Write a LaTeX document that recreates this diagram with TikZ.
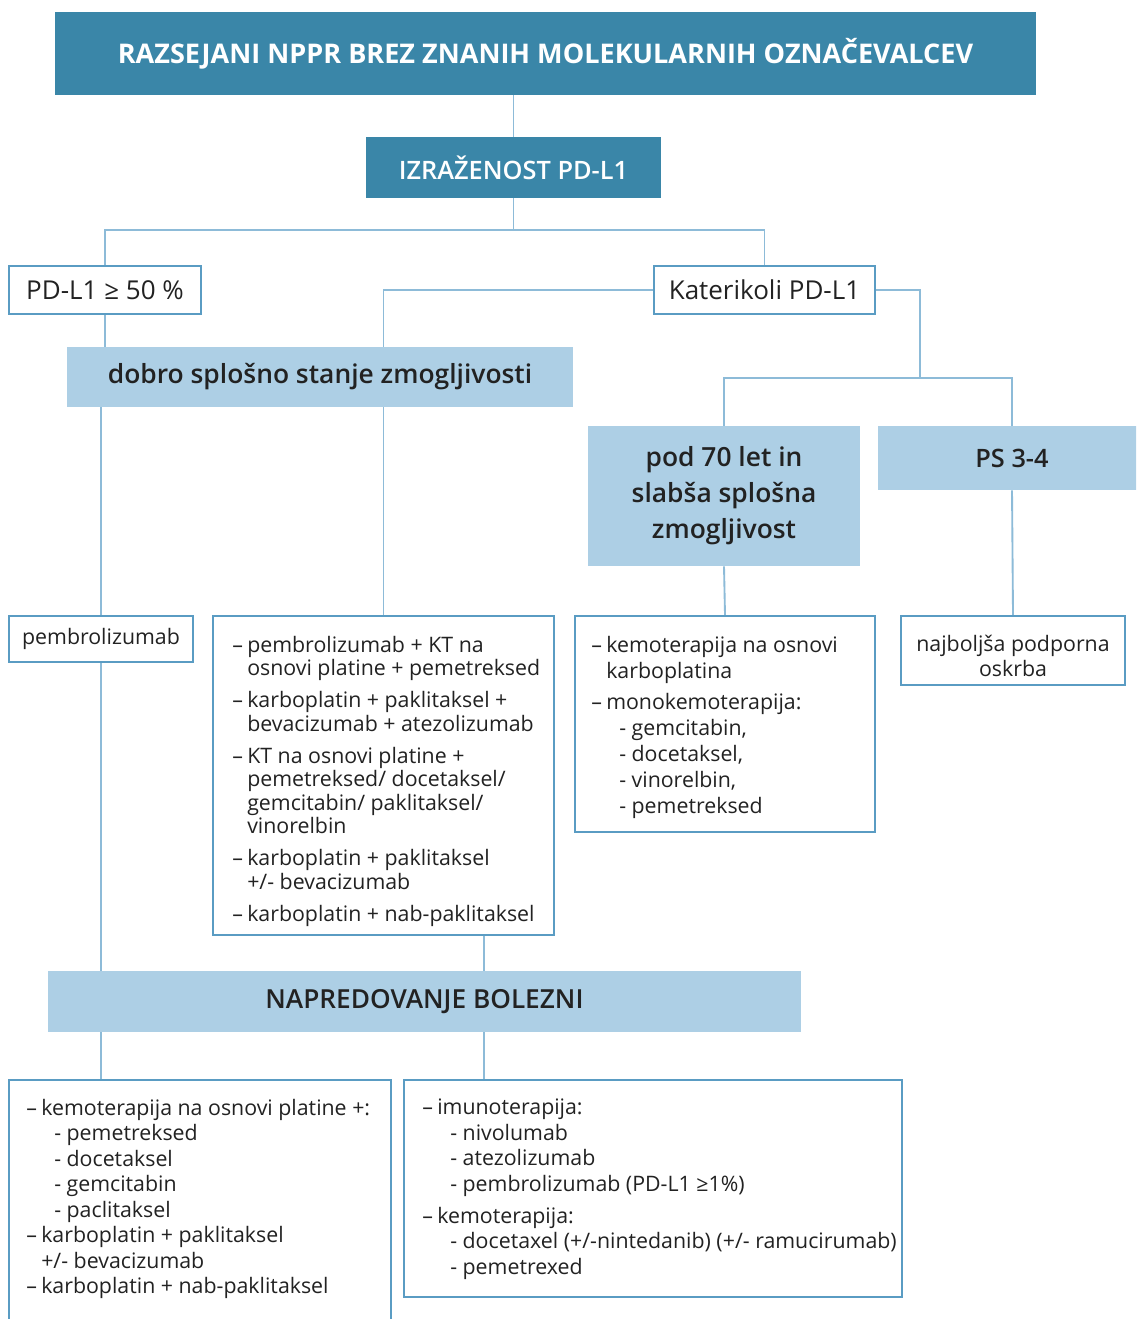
\documentclass[tikz,border=0pt]{standalone}
\usepackage{fontspec}
\setmainfont{Open Sans}
\newcommand\medfactor{1}
\IfFontExistsTF{Open Sans SemiBold}{\newfontfamily\medfont{Open Sans SemiBold}\renewcommand\medfactor{0.97}}{%
  \IfFontExistsTF{Open Sans Semibold}{\newfontfamily\medfont{Open Sans Semibold}\renewcommand\medfactor{0.97}}{%
    \newfontfamily\medfont[FakeBold=3]{Open Sans}}}
\newcommand\medsz[2]{\medfont\fontsize{\fpeval{\medfactor*#1}}{#2}\selectfont}
\usetikzlibrary{calc}
\definecolor{dteal}{HTML}{3A86A8}
\definecolor{lblue}{HTML}{ADCFE5}
\definecolor{conncol}{HTML}{8DBBD8}
\definecolor{bordcol}{HTML}{5A9CC3}
\definecolor{txtcol}{HTML}{222222}
\newcommand\di{\makebox[11.25pt][l]{–}}
\newcommand\ci{\hspace*{11.25pt}}
\newcommand\si{\hspace*{21pt}- }
\newcommand\bodysz[1]{\fontsize{16}{#1}\selectfont}
\begin{document}
\begin{tikzpicture}[x=0.75pt,y=-0.75pt,
  wh/.style 2 args={minimum width=#1*0.75pt,minimum height=#2*0.75pt},
  darkbox/.style={fill=dteal,draw=none,text=white,inner sep=0pt},
  lightbox/.style={fill=lblue,draw=none,text=txtcol,inner sep=0pt},
  whitebox/.style={fill=white,draw=bordcol,line width=1.8pt,inner sep=0pt,text=txtcol},
  listblk/.style={anchor=north west,inner sep=0pt,align=left,text=txtcol},
  link/.style={draw=conncol,line width=1.4pt}]
\useasboundingbox (0,0) rectangle (1136,1319);
\clip (0,0) rectangle (1136,1319);
\fill[white] (0,0) rectangle (1136,1319);

% header nodes
\node[darkbox,wh={981}{83}] (title) at (545.5,53.5)
  {\raisebox{-1pt}{\bfseries\fontsize{20.3}{22}\selectfont RAZSEJANI NPPR BREZ ZNANIH MOLEKULARNIH OZNAČEVALCEV}};
\node[darkbox,wh={295}{61}] (izr) at (513.5,167.5)
  {\medsz{19.6}{22}IZRAŽENOST PD-L1};
\node[whitebox,wh={192}{48}] (pd50) at (105,290)
  {\fontsize{19.5}{22}\selectfont PD-L1 ≥ 50 \%};
\node[whitebox,wh={221}{48}] (kat) at (764.5,290)
  {\fontsize{19.5}{22}\selectfont Katerikoli PD-L1};
\node[lightbox,wh={506}{60}] (dobro) at (320,377)
  {\raisebox{-1.5pt}{\medsz{20.4}{22}dobro splošno stanje zmogljivosti}};
\node[lightbox,wh={272}{140},align=center,font=\medsz{20.4}{27}] (pod) at (724,496)
  {pod 70 let in\\slabša splošna\\zmogljivost};
\node[lightbox,wh={268}{64}] (ps) at (1012,458)
  {\medsz{19.6}{22}PS 3-4};

% level boxes
\node[whitebox,wh={184}{46}] (b1) at (101,639) {\raisebox{-2pt}{\bodysz{19}pembrolizumab}};
\node[whitebox,wh={341}{319}] (b2) at (383.5,775.5) {};
\node[whitebox,wh={300}{216}] (b3) at (725,724) {};
\node[whitebox,wh={224}{69}] (b4) at (1013,650.5)
  {\raisebox{-6pt}[\height][\depth]{\bodysz{18.75}\begin{tabular}{@{}c@{}}najboljša podporna\\oskrba\end{tabular}}};
\node[lightbox,wh={753}{61}] (nap) at (424.5,1001.5)
  {\raisebox{-1.5pt}{\medsz{20.3}{22}NAPREDOVANJE BOLEZNI}};
\node[whitebox,wh={382}{260}] (b5) at (200,1210) {};
\node[whitebox,wh={498}{217}] (b6) at (653,1188.5) {};

% box texts
\node[listblk,font=\bodysz{17.6}] (t2) at (232,636) {%
\di pembrolizumab + KT na\\
\ci osnovi platine + pemetreksed\\[6.4pt]
\di karboplatin + paklitaksel +\\
\ci bevacizumab + atezolizumab\\[6.4pt]
\di KT na osnovi platine +\\
\ci pemetreksed/ docetaksel/\\
\ci gemcitabin/ paklitaksel/\\
\ci vinorelbin\\[6.4pt]
\di karboplatin + paklitaksel\\
\ci +/- bevacizumab\\[6.4pt]
\di karboplatin + nab-paklitaksel};

\node[listblk,font=\bodysz{19.5}] (t3) at (591,636) {%
\di kemoterapija na osnovi\\
\ci karboplatina\\[3.75pt]
\di monokemoterapija:\\
\si gemcitabin,\\
\si docetaksel,\\
\si vinorelbin,\\
\si pemetreksed};

\node[listblk,font=\bodysz{19.1}] (t5) at (26,1099) {%
\di kemoterapija na osnovi platine +:\\
\si pemetreksed\\
\si docetaksel\\
\si gemcitabin\\
\si paclitaksel\\
\di karboplatin + paklitaksel\\
\ci +/- bevacizumab\\
\di karboplatin + nab-paklitaksel};

\node[listblk,font=\bodysz{19.1}] (t6) at (422,1099) {%
\di imunoterapija:\\
\si nivolumab\\
\si atezolizumab\\
\si pembrolizumab (PD-L1 ≥1\%)\\[5pt]
\di kemoterapija:\\
\si docetaxel (+/-nintedanib) (+/- ramucirumab)\\
\si pemetrexed};

% connectors
\coordinate (j1) at (513.5,230);
\coordinate (j2) at (920,378);
\coordinate (colB) at (484,0);
\draw[link] (izr.north |- title.south) -- (izr.north);
\draw[link] (izr.south) -- (j1);
\draw[link] (pd50.north) -- (pd50.north |- j1) -- (kat.north |- j1) -- (kat.north);
\draw[link] (pd50.south) -- (pd50.south |- dobro.north);
\draw[link] (b1.north |- dobro.south) -- (b1.north);
\draw[link] (kat.west) -| (b2.north |- dobro.north);
\draw[link] (b2.north |- dobro.south) -- (b2.north);
\draw[link] (kat.east) -| (j2);
\draw[link] (pod.north) |- (j2) -| (ps.north);
\draw[link] (pod.south) -- (b3.north);
\draw[link] (ps.south) -- (b4.north);
\draw[link] (b1.south) -- (b1.south |- nap.north);
\draw[link] (b2.south -| colB) -- (nap.north -| colB);
\draw[link] (nap.south -| colB) -- (b6.north -| colB);
\draw[link] (nap.south -| b1.south) -- (b5.north -| b1.south);
\end{tikzpicture}
\end{document}
